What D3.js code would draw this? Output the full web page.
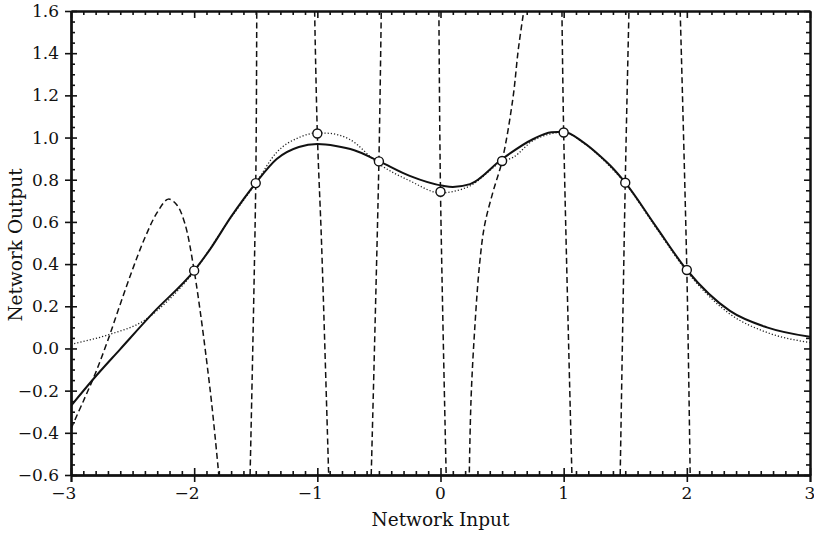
<!DOCTYPE html>
<html lang="en">
<head>
<meta charset="UTF-8">
<title>Network Output</title>
<script src="https://cdnjs.cloudflare.com/ajax/libs/d3/7.8.5/d3.min.js"></script>
<style>
  body { margin: 0; background: #fff; }
  svg text { font-family: "DejaVu Serif", "Liberation Serif", serif; fill: #111; }
  .axis path, .axis line { stroke: #111; }
  .axis path { stroke-width: 2; }
  .axis line { stroke-width: 1.6; }
</style>
</head>
<body>
<script>
// tick values
var xTicks = [-3, -2, -1, 0, 1, 2, 3];
var yTicks = [-0.6, -0.4, -0.2, 0.0, 0.2, 0.4, 0.6, 0.8, 1.0, 1.2, 1.4, 1.6];

// training points (circles)
var pointX = [-2, -1.5, -1, -0.5, 0, 0.5, 1, 1.5, 2];
var pointY = [0.369, 0.784, 1.019, 0.887, 0.743, 0.889, 1.024, 0.786, 0.372];

// solid curve (network fit)
var solidX = [-3, -2.82, -2.6, -2.33, -2.0, -1.87, -1.7, -1.5, -1.33, -1.15, -1.0, -0.85, -0.7, -0.5, -0.25, 0.02, 0.1, 0.24, 0.5, 0.75, 0.9, 1.0, 1.16, 1.3, 1.38, 1.5, 1.75, 2.0, 2.35, 2.65, 3.0];
var solidY = [-0.272, -0.146, -0.003, 0.171, 0.369, 0.471, 0.625, 0.784, 0.898, 0.955, 0.969, 0.96, 0.94, 0.888, 0.818, 0.771, 0.766, 0.779, 0.898, 0.992, 1.025, 1.028, 0.977, 0.91, 0.866, 0.786, 0.578, 0.372, 0.178, 0.100, 0.055];

// dotted curve (underlying function)
var dotX = [-3, -2.68, -2.41, -2.2, -2.05, -2.0, -1.75, -1.5, -1.33, -1.15, -1.0, -0.9, -0.74, -0.5, -0.25, 0.0, 0.24, 0.5, 0.59, 0.75, 1.0, 1.16, 1.38, 1.5, 1.75, 2.0, 2.35, 2.65, 3.0];
var dotY = [0.020, 0.068, 0.131, 0.234, 0.329, 0.365, 0.58, 0.784, 0.93, 1.0, 1.022, 1.02, 0.992, 0.875, 0.795, 0.738, 0.771, 0.886, 0.906, 0.985, 1.025, 0.975, 0.86, 0.782, 0.572, 0.365, 0.163, 0.076, 0.028];

// dashed curve (exact interpolation), one list per branch
var dashA = [[-3.0, -0.38], [-2.9, -0.25], [-2.8, -0.115], [-2.7, 0.04], [-2.6, 0.21], [-2.5, 0.375], [-2.4, 0.525], [-2.3, 0.645], [-2.21, 0.708], [-2.14, 0.68], [-2.078, 0.597], [-2.0, 0.369], [-1.871, -0.193], [-1.80, -0.6]];
var dashB = [[-1.546, -0.6], [-1.5, 0.784], [-1.492, 1.6]];
var dashC = [[-1.022, 1.6], [-1.0, 1.019], [-0.965, 0.487], [-0.908, -0.6]];
var dashD = [[-0.5625, -0.6], [-0.5, 0.887], [-0.481, 1.6]];
var dashE = [[-0.013, 1.6], [0.0, 0.743], [0.046, -0.6]];
var dashF = [[0.234, -0.588], [0.248, -0.24], [0.276, 0.076], [0.316, 0.392], [0.357, 0.581], [0.425, 0.74], [0.5, 0.889], [0.587, 1.182], [0.632, 1.419], [0.676, 1.6]];
var dashG = [[0.986, 1.6], [1.0, 1.024], [1.067, -0.6]];
var dashH = [[1.459, -0.6], [1.5, 0.786], [1.53, 1.6]];
var dashI = [[1.946, 1.6], [2.0, 0.372], [2.027, -0.6]];
var dashBranches = [dashA, dashB, dashC, dashD, dashE, dashF, dashG, dashH, dashI];

var W = 814, H = 534;
var mLeft = 71, mRight = 810, mTop = 11, mBottom = 475;

var svg = d3.select('body').append('svg').attr('width', W).attr('height', H);

var x = d3.scaleLinear().domain([-3, 3]).range([mLeft, mRight]);
var y = d3.scaleLinear().domain([-0.6, 1.6]).range([mBottom, mTop]);

svg.append('clipPath').attr('id', 'plotclip')
   .append('rect').attr('x', mLeft).attr('y', mTop).attr('width', mRight - mLeft).attr('height', mBottom - mTop);

var xMinor = d3.range(-30, 31).map(function(i) { return i / 10; }).filter(function(v) { return Math.abs(v - Math.round(v)) > 1e-6; });
var yMinor = d3.range(-12, 33).map(function(i) { return i * 0.05; }).filter(function(v) { return Math.abs(v * 5 - Math.round(v * 5)) > 1e-6; });

function minus(s) { return s.replace('-', '\u2212'); }

var g = svg.append('g');

// bottom axis: major ticks crossing the line, minor inward
g.append('g').attr('class', 'axis').attr('transform', 'translate(0,' + mBottom + ')')
 .call(d3.axisBottom(x).tickValues(xTicks).tickSize(7).tickFormat(''));
g.append('g').attr('class', 'axis').attr('transform', 'translate(0,' + mBottom + ')')
 .call(d3.axisBottom(x).tickValues(xTicks).tickSize(-7).tickSizeOuter(0).tickFormat(''));
g.append('g').attr('class', 'axis').attr('transform', 'translate(0,' + mBottom + ')')
 .call(d3.axisBottom(x).tickValues(xMinor).tickSize(-4).tickSizeOuter(0).tickFormat(''));

// top axis: inward ticks
g.append('g').attr('class', 'axis').attr('transform', 'translate(0,' + mTop + ')')
 .call(d3.axisTop(x).tickValues(xTicks).tickSize(-7).tickSizeOuter(0).tickFormat(''));
g.append('g').attr('class', 'axis').attr('transform', 'translate(0,' + mTop + ')')
 .call(d3.axisTop(x).tickValues(xMinor).tickSize(-4).tickSizeOuter(0).tickFormat(''));

// left axis
g.append('g').attr('class', 'axis').attr('transform', 'translate(' + mLeft + ',0)')
 .call(d3.axisLeft(y).tickValues(yTicks).tickSize(6).tickSizeOuter(0).tickFormat(''));
g.append('g').attr('class', 'axis').attr('transform', 'translate(' + mLeft + ',0)')
 .call(d3.axisLeft(y).tickValues(yTicks).tickSize(-6).tickSizeOuter(0).tickFormat(''));
g.append('g').attr('class', 'axis').attr('transform', 'translate(' + mLeft + ',0)')
 .call(d3.axisLeft(y).tickValues(yMinor).tickSize(-4).tickSizeOuter(0).tickFormat(''));

// right axis
g.append('g').attr('class', 'axis').attr('transform', 'translate(' + mRight + ',0)')
 .call(d3.axisRight(y).tickValues(yTicks).tickSize(-6).tickSizeOuter(0).tickFormat(''));
g.append('g').attr('class', 'axis').attr('transform', 'translate(' + mRight + ',0)')
 .call(d3.axisRight(y).tickValues(yMinor).tickSize(-4).tickSizeOuter(0).tickFormat(''));

g.selectAll('.axis text').remove();

// tick labels
svg.append('g').selectAll('text').data(xTicks).enter().append('text')
   .attr('x', function(d) { return x(d) + 5.4; })
   .attr('y', mBottom + 24)
   .attr('text-anchor', 'end')
   .style('font-size', '17px')
   .text(function(d) { return minus(String(d)); });

svg.append('g').selectAll('text').data(yTicks).enter().append('text')
   .attr('x', mLeft - 12)
   .attr('y', function(d) { return y(d) + 6; })
   .attr('text-anchor', 'end')
   .style('font-size', '17px')
   .text(function(d) { return minus(d3.format('.1f')(d)); });

// axis titles
svg.append('text')
   .attr('x', (mLeft + mRight) / 2).attr('y', 526)
   .attr('text-anchor', 'middle')
   .style('font-size', '18.5px')
   .text('Network Input');

svg.append('text')
   .attr('transform', 'translate(22,' + ((mTop + mBottom) / 2 + 2) + ') rotate(-90)')
   .attr('text-anchor', 'middle')
   .style('font-size', '18.5px')
   .text('Network Output');

// curves
var plot = svg.append('g').attr('clip-path', 'url(#plotclip)');

var line = d3.line().x(function(d) { return x(d[0]); }).y(function(d) { return y(d[1]); }).curve(d3.curveCatmullRom.alpha(0.5));
var smooth = d3.line().x(function(d) { return x(d[0]); }).y(function(d) { return y(d[1]); }).curve(d3.curveMonotoneX);

plot.append('path')
    .datum(dotX.map(function(v, i) { return [v, dotY[i]]; }))
    .attr('d', smooth)
    .attr('fill', 'none').attr('stroke', '#222').attr('stroke-width', 1.3)
    .attr('stroke-dasharray', '1.2,2');

plot.selectAll('path.dash').data(dashBranches).enter().append('path')
    .attr('class', 'dash')
    .attr('d', line)
    .attr('fill', 'none').attr('stroke', '#111').attr('stroke-width', 1.5)
    .attr('stroke-dasharray', '6,3.5');

plot.append('path')
    .datum(solidX.map(function(v, i) { return [v, solidY[i]]; }))
    .attr('d', smooth)
    .attr('fill', 'none').attr('stroke', '#111').attr('stroke-width', 2);

svg.append('g').selectAll('circle').data(pointX).enter().append('circle')
   .attr('cx', function(d) { return x(d); })
   .attr('cy', function(d, i) { return y(pointY[i]); })
   .attr('r', 4.5)
   .attr('fill', '#fff').attr('stroke', '#111').attr('stroke-width', 1.4);
</script>
</body>
</html>
